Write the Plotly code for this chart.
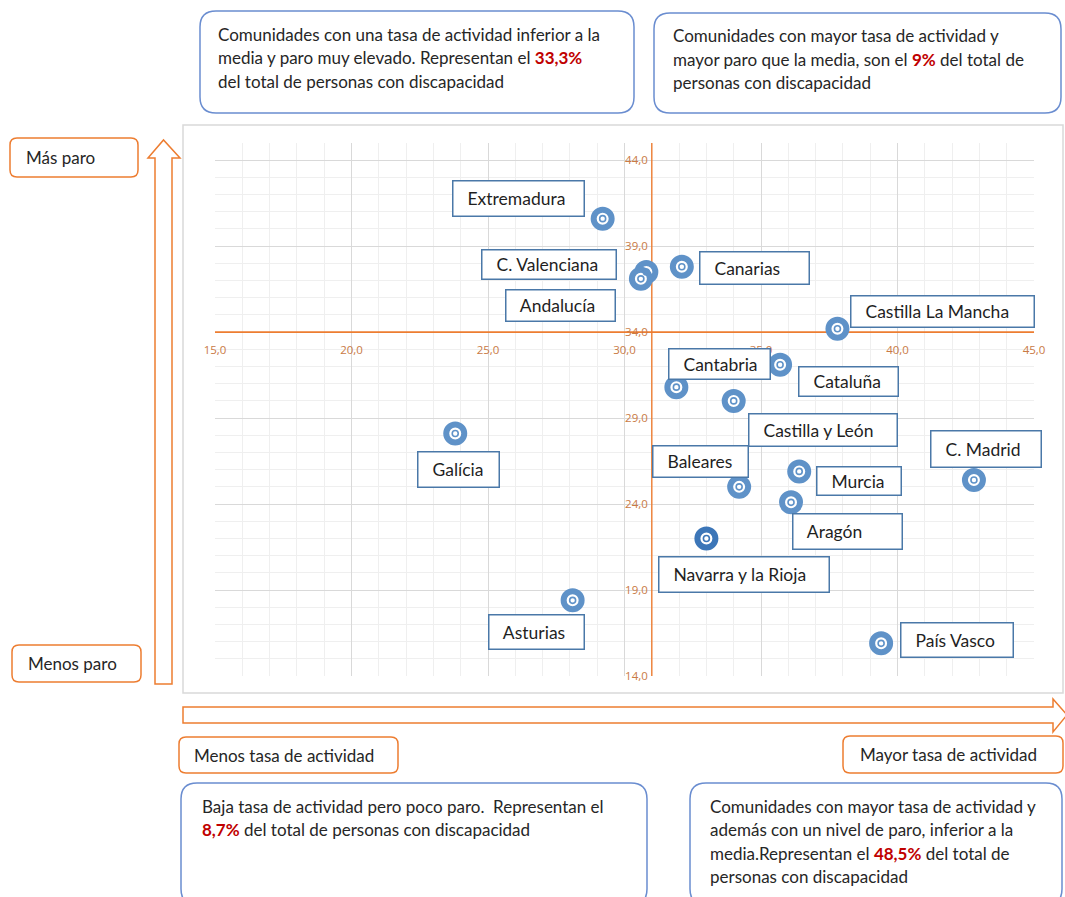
import plotly.graph_objects as go

# ---------------- data ----------------
regiones = ["Extremadura", "C. Valenciana", "Andalucía", "Canarias", "Castilla La Mancha",
            "Cantabria", "Cataluña", "Castilla y León", "Galícia", "Baleares", "Murcia",
            "Aragón", "C. Madrid", "Navarra y la Rioja", "Asturias", "País Vasco"]
tasa_actividad = [29.2, 30.8, 30.6, 32.1, 37.8, 31.9, 35.7, 34.0, 23.8, 34.2, 36.4,
                  36.1, 42.8, 33.0, 28.1, 39.4]
tasa_paro = [40.6, 37.5, 37.1, 37.8, 34.2, 30.8, 32.1, 30.0, 28.1, 25.0, 25.9,
             24.1, 25.4, 22.0, 18.4, 15.9]
media_actividad = 31.0
media_paro = 34.0
x_ticks = [15, 20, 25, 30, 35, 40, 45]
y_ticks = [14, 19, 24, 29, 34, 39, 44]

# ---------------- layout helpers ----------------
W_FIG, H_FIG = 1065, 897
L, R, T, B = 215, 1034, 143, 676
PW, PH = R - L, B - T
X_RANGE = [15, 45]
Y_RANGE = [14, 45]

ORANGE = "#ED7D31"
BLUE_BOX = "#6A8DD0"
LABEL_BORDER = "#4A78A8"
RING = "#5F92C8"
RING_DARK = "#3C76B8"
FONT = "Lato"
TEXT_SIZE = 17


def px(x):
    return (x - L) / PW


def py(y):
    return (B - y) / PH


def rrect_path(x0, y0, x1, y1, r):
    pts = [
        ("M", [(x0 + r, y0)]),
        ("L", [(x1 - r, y0)]), ("Q", [(x1, y0), (x1, y0 + r)]),
        ("L", [(x1, y1 - r)]), ("Q", [(x1, y1), (x1 - r, y1)]),
        ("L", [(x0 + r, y1)]), ("Q", [(x0, y1), (x0, y1 - r)]),
        ("L", [(x0, y0 + r)]), ("Q", [(x0, y0), (x0 + r, y0)]),
    ]
    s = ""
    for cmd, ps in pts:
        s += cmd + " " + " ".join(f"{px(a):.5f},{py(b):.5f}" for a, b in ps) + " "
    return s + "Z"


def poly_path(points):
    return "M " + " L ".join(f"{px(a):.5f},{py(b):.5f}" for a, b in points) + " Z"


shapes = []
annotations = []

# outer chart frame
shapes.append(dict(type="rect", xref="paper", yref="paper", x0=px(183), x1=px(1063),
                   y0=py(693), y1=py(125), line=dict(color="#D9D9D9", width=1.5),
                   fillcolor="rgba(0,0,0,0)", layer="below"))

# mean lines (axes crossing), drawn above the grid but below the markers
shapes.append(dict(type="line", xref="x", yref="y", x0=media_actividad, x1=media_actividad,
                   y0=Y_RANGE[0], y1=Y_RANGE[1], line=dict(color=ORANGE, width=1.4),
                   layer="between"))
shapes.append(dict(type="line", xref="x", yref="y", x0=X_RANGE[0], x1=X_RANGE[1],
                   y0=media_paro, y1=media_paro, line=dict(color=ORANGE, width=1.6),
                   layer="between"))

# blue rounded text boxes
blue_boxes = [
    (200, 11, 634, 113),
    (654, 13, 1061, 113),
    (181, 783, 647, 905),
    (690, 783, 1062, 905),
]
for x0, y0, x1, y1 in blue_boxes:
    shapes.append(dict(type="path", xref="paper", yref="paper", path=rrect_path(x0, y0, x1, y1, 16),
                       line=dict(color=BLUE_BOX, width=1.5), fillcolor="white"))

# orange rounded label boxes
orange_boxes = [
    (10, 138, 138, 177, "Más paro", 24),
    (12, 645, 141, 682, "Menos paro", 26),
    (179, 737, 398, 773, "Menos tasa de actividad", 192),
    (843, 736, 1063, 773, "Mayor tasa de actividad", 858),
]
for x0, y0, x1, y1, txt, tx in orange_boxes:
    shapes.append(dict(type="path", xref="paper", yref="paper", path=rrect_path(x0, y0, x1, y1, 7),
                       line=dict(color=ORANGE, width=1.5), fillcolor="white"))
    annotations.append(dict(xref="paper", yref="paper", x=px(tx), y=py((y0 + y1) / 2),
                            xanchor="left", yanchor="middle", showarrow=False, text=txt,
                            font=dict(family=FONT, size=TEXT_SIZE, color="#262626")))

# arrows
shapes.append(dict(type="path", xref="paper", yref="paper",
                   path=poly_path([(155, 684), (172, 684), (172, 158), (180, 158), (163.5, 140),
                                   (148, 158), (155, 158)]),
                   line=dict(color=ORANGE, width=1.5), fillcolor="white"))
shapes.append(dict(type="path", xref="paper", yref="paper",
                   path=poly_path([(183, 707), (1053, 707), (1053, 699), (1067, 715), (1053, 732),
                                   (1053, 723), (183, 723)]),
                   line=dict(color=ORANGE, width=1.5), fillcolor="white"))

# box texts
RED = "#C00000"


def red(t):
    return f"<span style='color:{RED}'><b>{t}</b></span>"


text_blocks = [
    (216, 34, ["Comunidades con una tasa de actividad inferior a la",
               "media y paro muy elevado. Representan el " + red("33,3%"),
               "del total de personas con discapacidad"]),
    (671, 36, ["Comunidades con mayor tasa de actividad y",
               "mayor paro que la media, son el " + red("9%") + " del total de",
               "personas con discapacidad"]),
    (200, 806, ["Baja tasa de actividad pero poco paro.  Representan el",
                red("8,7%") + " del total de personas con discapacidad"]),
    (708, 806, ["Comunidades con mayor tasa de actividad y",
                "además con un nivel de paro, inferior a la",
                "media.Representan el " + red("48,5%") + " del total de",
                "personas con discapacidad"]),
]
for tx, ty, lines in text_blocks:
    for i, line in enumerate(lines):
        annotations.append(dict(xref="paper", yref="paper", x=px(tx), y=py(ty + i * 23.5),
                                xanchor="left", yanchor="middle", showarrow=False, text=line,
                                font=dict(family=FONT, size=TEXT_SIZE, color="#262626")))

# data label boxes: (dx, dy, box width, box height) in pixels relative to the point
label_layout = {
    "Extremadura": (-84, -20, 133, 37),
    "C. Valenciana": (-97, -7, 136, 31),
    "Andalucía": (-80, 27, 111, 33),
    "Canarias": (73, 1, 111, 34),
    "Castilla La Mancha": (105, -17, 185, 33),
    "Cantabria": (43, -23, 103, 32),
    "Cataluña": (68, 17, 101, 31),
    "Castilla y León": (89, 29, 150, 34),
    "Galícia": (3, 36, 83, 37),
    "Baleares": (-39, -25, 97, 33),
    "Murcia": (60, 10, 86, 30),
    "Aragón": (56, 29, 111, 37),
    "C. Madrid": (12, -31, 112, 38),
    "Navarra y la Rioja": (38, 36, 172, 37),
    "Asturias": (-36, 32, 97, 36),
    "País Vasco": (76, -3, 114, 36),
}
PAD = 5
for name, xv, yv in zip(regiones, tasa_actividad, tasa_paro):
    dx, dy, bw, bh = label_layout[name]
    annotations.append(dict(x=xv, y=yv, xref="x", yref="y", ax=dx, ay=dy, showarrow=True,
                            arrowcolor="rgba(0,0,0,0)", arrowwidth=0.1,
                            xanchor="center", yanchor="middle",
                            text="\u00a0\u00a0" + name, align="left",
                            width=bw - 2 * PAD - 3, height=bh - 2 * PAD - 3,
                            borderpad=PAD, bordercolor=LABEL_BORDER, borderwidth=1.5,
                            bgcolor="white",
                            font=dict(family=FONT, size=17.5, color="#1F1F1F")))

marker_colors = [RING_DARK if r == "Navarra y la Rioja" else RING for r in regiones]

fig = go.Figure()
fig.add_trace(go.Scatter(x=tasa_actividad, y=tasa_paro, mode="markers", text=regiones,
                         hoverinfo="text",
                         marker=dict(symbol="circle", size=18, color="white",
                                     line=dict(color=marker_colors, width=6))))
fig.add_trace(go.Scatter(x=tasa_actividad, y=tasa_paro, mode="markers", hoverinfo="skip",
                         marker=dict(symbol="circle-open", size=6, color=marker_colors,
                                     line=dict(color=marker_colors, width=1.6))))

tick_font = dict(family="Open Sans", size=11.5, color="#C97A45")
fig.update_layout(
    width=W_FIG, height=H_FIG,
    margin=dict(l=L, r=W_FIG - R, t=T, b=H_FIG - B, pad=0),
    paper_bgcolor="white", plot_bgcolor="white",
    showlegend=False,
    separators=",.",
    shapes=shapes,
    annotations=annotations,
    xaxis=dict(range=X_RANGE, tickmode="array", tickvals=x_ticks, tickformat=".1f",
               showgrid=True, gridcolor="#D9D9D9", gridwidth=1,
               minor=dict(dtick=1, showgrid=True, gridcolor="#EFEFEF", gridwidth=1),
               zeroline=False, showline=False, anchor="free",
               position=(media_paro - Y_RANGE[0]) / (Y_RANGE[1] - Y_RANGE[0]),
               tickfont=tick_font, ticks="", ticklabelstandoff=9, fixedrange=True),
    yaxis=dict(range=Y_RANGE, tickmode="array", tickvals=y_ticks, tickformat=".1f",
               showgrid=True, gridcolor="#D9D9D9", gridwidth=1,
               minor=dict(tick0=14, dtick=1, showgrid=True, gridcolor="#EFEFEF", gridwidth=1),
               zeroline=False, showline=False, anchor="free",
               position=(media_actividad - X_RANGE[0]) / (X_RANGE[1] - X_RANGE[0]),
               tickfont=tick_font, ticks="", ticklabelstandoff=4, fixedrange=True),
)

fig.write_html("out.html", config={"displayModeBar": False},
               post_script="document.body.style.margin='0';document.body.style.overflow='hidden';")
